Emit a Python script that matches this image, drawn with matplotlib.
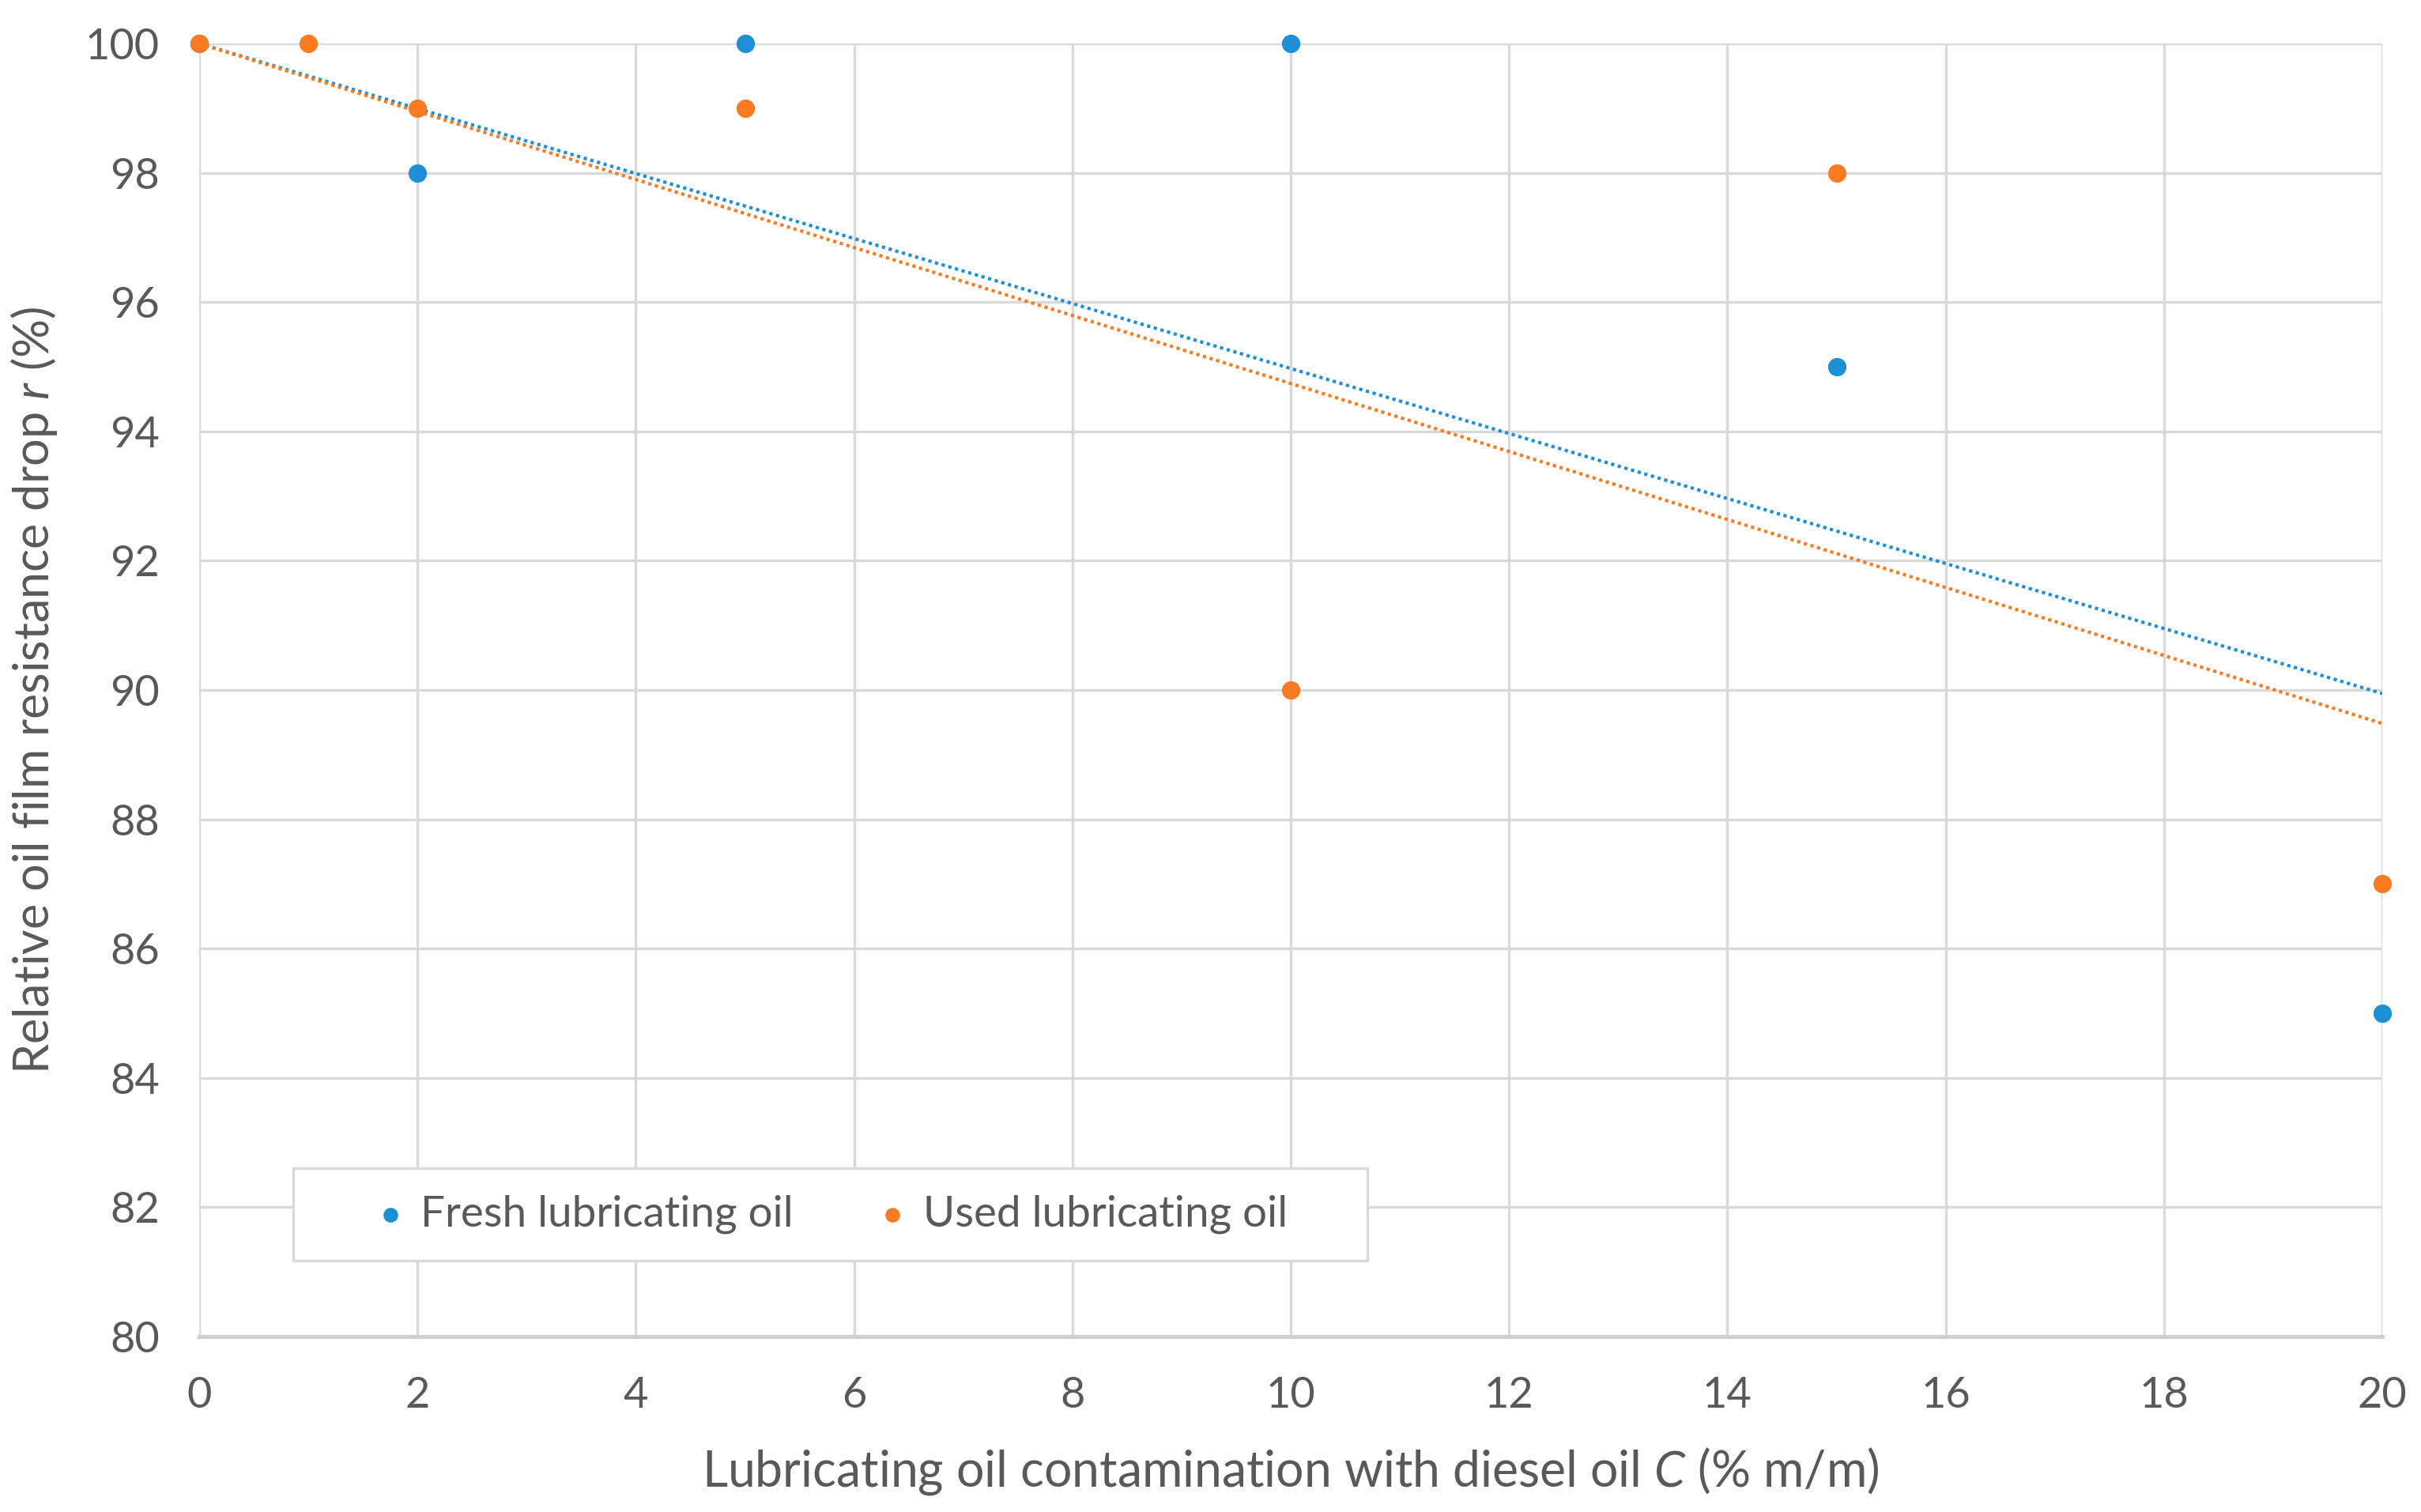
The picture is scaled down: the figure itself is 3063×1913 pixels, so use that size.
import numpy as np
import matplotlib
matplotlib.use("Agg")
import matplotlib.pyplot as plt
from matplotlib.patches import Rectangle

# dados
c_fresh = [0, 2, 5, 10, 15, 20]
r_fresh = [100, 98, 100, 100, 95, 85]
c_used = [0, 1, 2, 5, 10, 15, 20]
r_used = [100, 100, 99, 99, 90, 98, 87]

x_ticks = [0, 2, 4, 6, 8, 10, 12, 14, 16, 18, 20]
y_ticks = [80, 82, 84, 86, 88, 90, 92, 94, 96, 98, 100]

cor_fresh = '#1C8FD5'
cor_used = '#FA7B22'
cor_texto = '#595959'

plt.rcParams['font.family'] = ['Lato', 'DejaVu Sans']
plt.rcParams['mathtext.fontset'] = 'custom'
plt.rcParams['mathtext.it'] = 'Lato:italic'
plt.rcParams['mathtext.rm'] = 'Lato'


def tendencia(x, y, b=100.0):
    # linha de tendência linear com intercepto fixo (como no Excel)
    x = np.asarray(x, float)
    y = np.asarray(y, float)
    a = np.sum(x * (y - b)) / np.sum(x * x)
    xs = np.array([0.0, 20.0])
    return xs, a * xs + b


fig, ax = plt.subplots(figsize=(15.315, 9.565), dpi=200)
fig.subplots_adjust(left=0.0823, right=0.984, top=0.9712, bottom=0.116)

for x, y, cor in [(c_fresh, r_fresh, cor_fresh), (c_used, r_used, cor_used)]:
    xs, ys = tendencia(x, y)
    ax.plot(xs, ys, color=cor, lw=1.5, linestyle=(0, (1, 1.1)), zorder=3)

ax.scatter(c_fresh, r_fresh, s=70, color=cor_fresh, zorder=4, clip_on=False,
           label='Fresh lubricating oil', linewidths=0)
ax.scatter(c_used, r_used, s=70, color=cor_used, zorder=5, clip_on=False,
           label='Used lubricating oil', linewidths=0)

ax.set_xlim(0, 20)
ax.set_ylim(80, 100)
ax.set_xticks(x_ticks)
ax.set_yticks(y_ticks)
ax.grid(True, color='#D9D9D9', lw=1.2)
ax.set_axisbelow(True)
for lado in ['top', 'right', 'left']:
    ax.spines[lado].set_visible(False)
ax.spines['bottom'].set_color('#D0D0D0')
ax.spines['bottom'].set_linewidth(1.8)
ax.tick_params(length=0, labelsize=19.5, labelcolor=cor_texto, pad=18)

ax.set_xlabel('Lubricating oil contamination with diesel oil $\\mathit{C}$ (% m/m)',
              fontsize=22.5, color=cor_texto, labelpad=14)
ax.set_ylabel('Relative oil film resistance drop $\\mathit{r}$ (%)',
              fontsize=22, color=cor_texto, labelpad=12)

# caixa da legenda desenhada à parte, com o conteúdo centralizado
caixa = Rectangle((0.043, 0.059), 0.492, 0.071, transform=ax.transAxes,
                  facecolor='white', edgecolor='#D9D9D9', lw=1.2, zorder=6)
ax.add_patch(caixa)
leg = ax.legend(loc='center', bbox_to_anchor=(0.289, 0.0945), ncol=2,
                fontsize=19.7, frameon=False, handlelength=0.8,
                handletextpad=0.3, columnspacing=1.9, markerscale=0.8,
                borderpad=0, borderaxespad=0, labelcolor=cor_texto)
leg.set_zorder(7)

plt.savefig('out.png', dpi=200)
plt.close()
